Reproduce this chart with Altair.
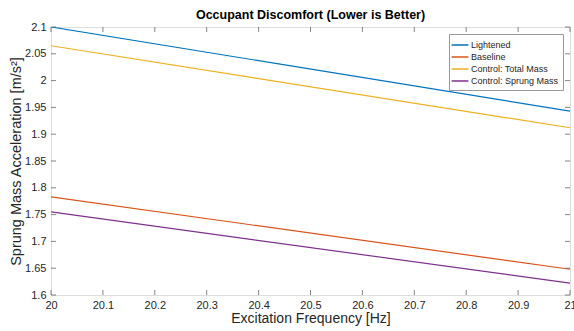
import altair as alt
import pandas as pd

series = ["Lightened", "Baseline", "Control: Total Mass", "Control: Sprung Mass"]
colors = ["#0072BD", "#D95319", "#EDB120", "#7E2F8E"]
freq = [20.0, 21.0]
lightened = [2.100, 1.943]
baseline = [1.783, 1.648]
control_total = [2.065, 1.912]
control_sprung = [1.755, 1.622]
xticks = [20, 20.1, 20.2, 20.3, 20.4, 20.5, 20.6, 20.7, 20.8, 20.9, 21]
yticks = [1.6, 1.65, 1.7, 1.75, 1.8, 1.85, 1.9, 1.95, 2, 2.05, 2.1]

rows = []
for name, vals in zip(series, [lightened, baseline, control_total, control_sprung]):
    for f, v in zip(freq, vals):
        rows.append({"Series": name, "Frequency": f, "Acc": v})
df = pd.DataFrame(rows)

W, H = 519, 268
FONT = "Liberation Sans"
GRAY = "#262626"

xscale = alt.Scale(domain=[20, 21], nice=False, zero=False)
yscale = alt.Scale(domain=[1.6, 2.1], nice=False, zero=False)

xaxis = alt.Axis(values=xticks, format="~g", title="Excitation Frequency [Hz]",
                 ticks=False, domain=False, grid=False, labelPadding=4,
                 labelFontSize=11, labelColor=GRAY, labelFont=FONT,
                 titleFont=FONT, titleFontSize=14, titleFontWeight="normal",
                 titleColor=GRAY, titlePadding=1, labelFlush=False,
                 labelOverlap=False)
yaxis = alt.Axis(values=yticks, format="~g", title="Sprung Mass Acceleration [m/s²]",
                 ticks=False, domain=False, grid=False, labelPadding=5,
                 labelFontSize=11, labelColor=GRAY, labelFont=FONT,
                 titleFont=FONT, titleFontSize=14.5, titleFontWeight="normal",
                 titleColor=GRAY, titlePadding=1, labelFlush=False,
                 labelOverlap=False)

lines = alt.Chart(df).mark_line(strokeWidth=1.2, clip=True).encode(
    x=alt.X("Frequency:Q", scale=xscale, axis=xaxis),
    y=alt.Y("Acc:Q", scale=yscale, axis=yaxis),
    color=alt.Color("Series:N", sort=series,
                    scale=alt.Scale(domain=series, range=colors),
                    legend=alt.Legend(title=None, orient="none", legendX=398, legendY=7,
                                      symbolType="M-1.4,0H1.4", symbolSize=144,
                                      symbolStrokeWidth=1.5, symbolFillColor="transparent",
                                      labelFont=FONT, labelFontSize=9, labelColor=GRAY,
                                      rowPadding=0, padding=4, fillColor="white",
                                      strokeColor="#999999", labelOffset=4)),
)

xt = pd.DataFrame({"t": xticks})
yt = pd.DataFrame({"t": yticks})
tick_color = "#666666"
xb = alt.Chart(xt).mark_rule(color=tick_color, strokeWidth=0.8).encode(
    x=alt.X("t:Q", scale=xscale, axis=xaxis), y=alt.value(H), y2=alt.value(H - 5))
xtp = alt.Chart(xt).mark_rule(color=tick_color, strokeWidth=0.8).encode(
    x=alt.X("t:Q", scale=xscale, axis=xaxis), y=alt.value(0), y2=alt.value(5))
yl = alt.Chart(yt).mark_rule(color=tick_color, strokeWidth=0.8).encode(
    y=alt.Y("t:Q", scale=yscale, axis=yaxis), x=alt.value(0), x2=alt.value(5))
yr = alt.Chart(yt).mark_rule(color=tick_color, strokeWidth=0.8).encode(
    y=alt.Y("t:Q", scale=yscale, axis=yaxis), x=alt.value(W), x2=alt.value(W - 5))

chart = alt.layer(lines, xb, xtp, yl, yr).properties(
    width=W, height=H,
    title=alt.Title("Occupant Discomfort (Lower is Better)", font=FONT, fontSize=12.5,
                    fontWeight="bold", color="black", anchor="middle", offset=0),
    autosize=alt.AutoSizeParams(type="none"),
    padding={"left": 51, "top": 27, "right": 4, "bottom": 36},
).configure_view(stroke="#808080", strokeWidth=1).configure(background="white")

chart.save("out.html", embed_options={"renderer": "svg", "actions": False})
